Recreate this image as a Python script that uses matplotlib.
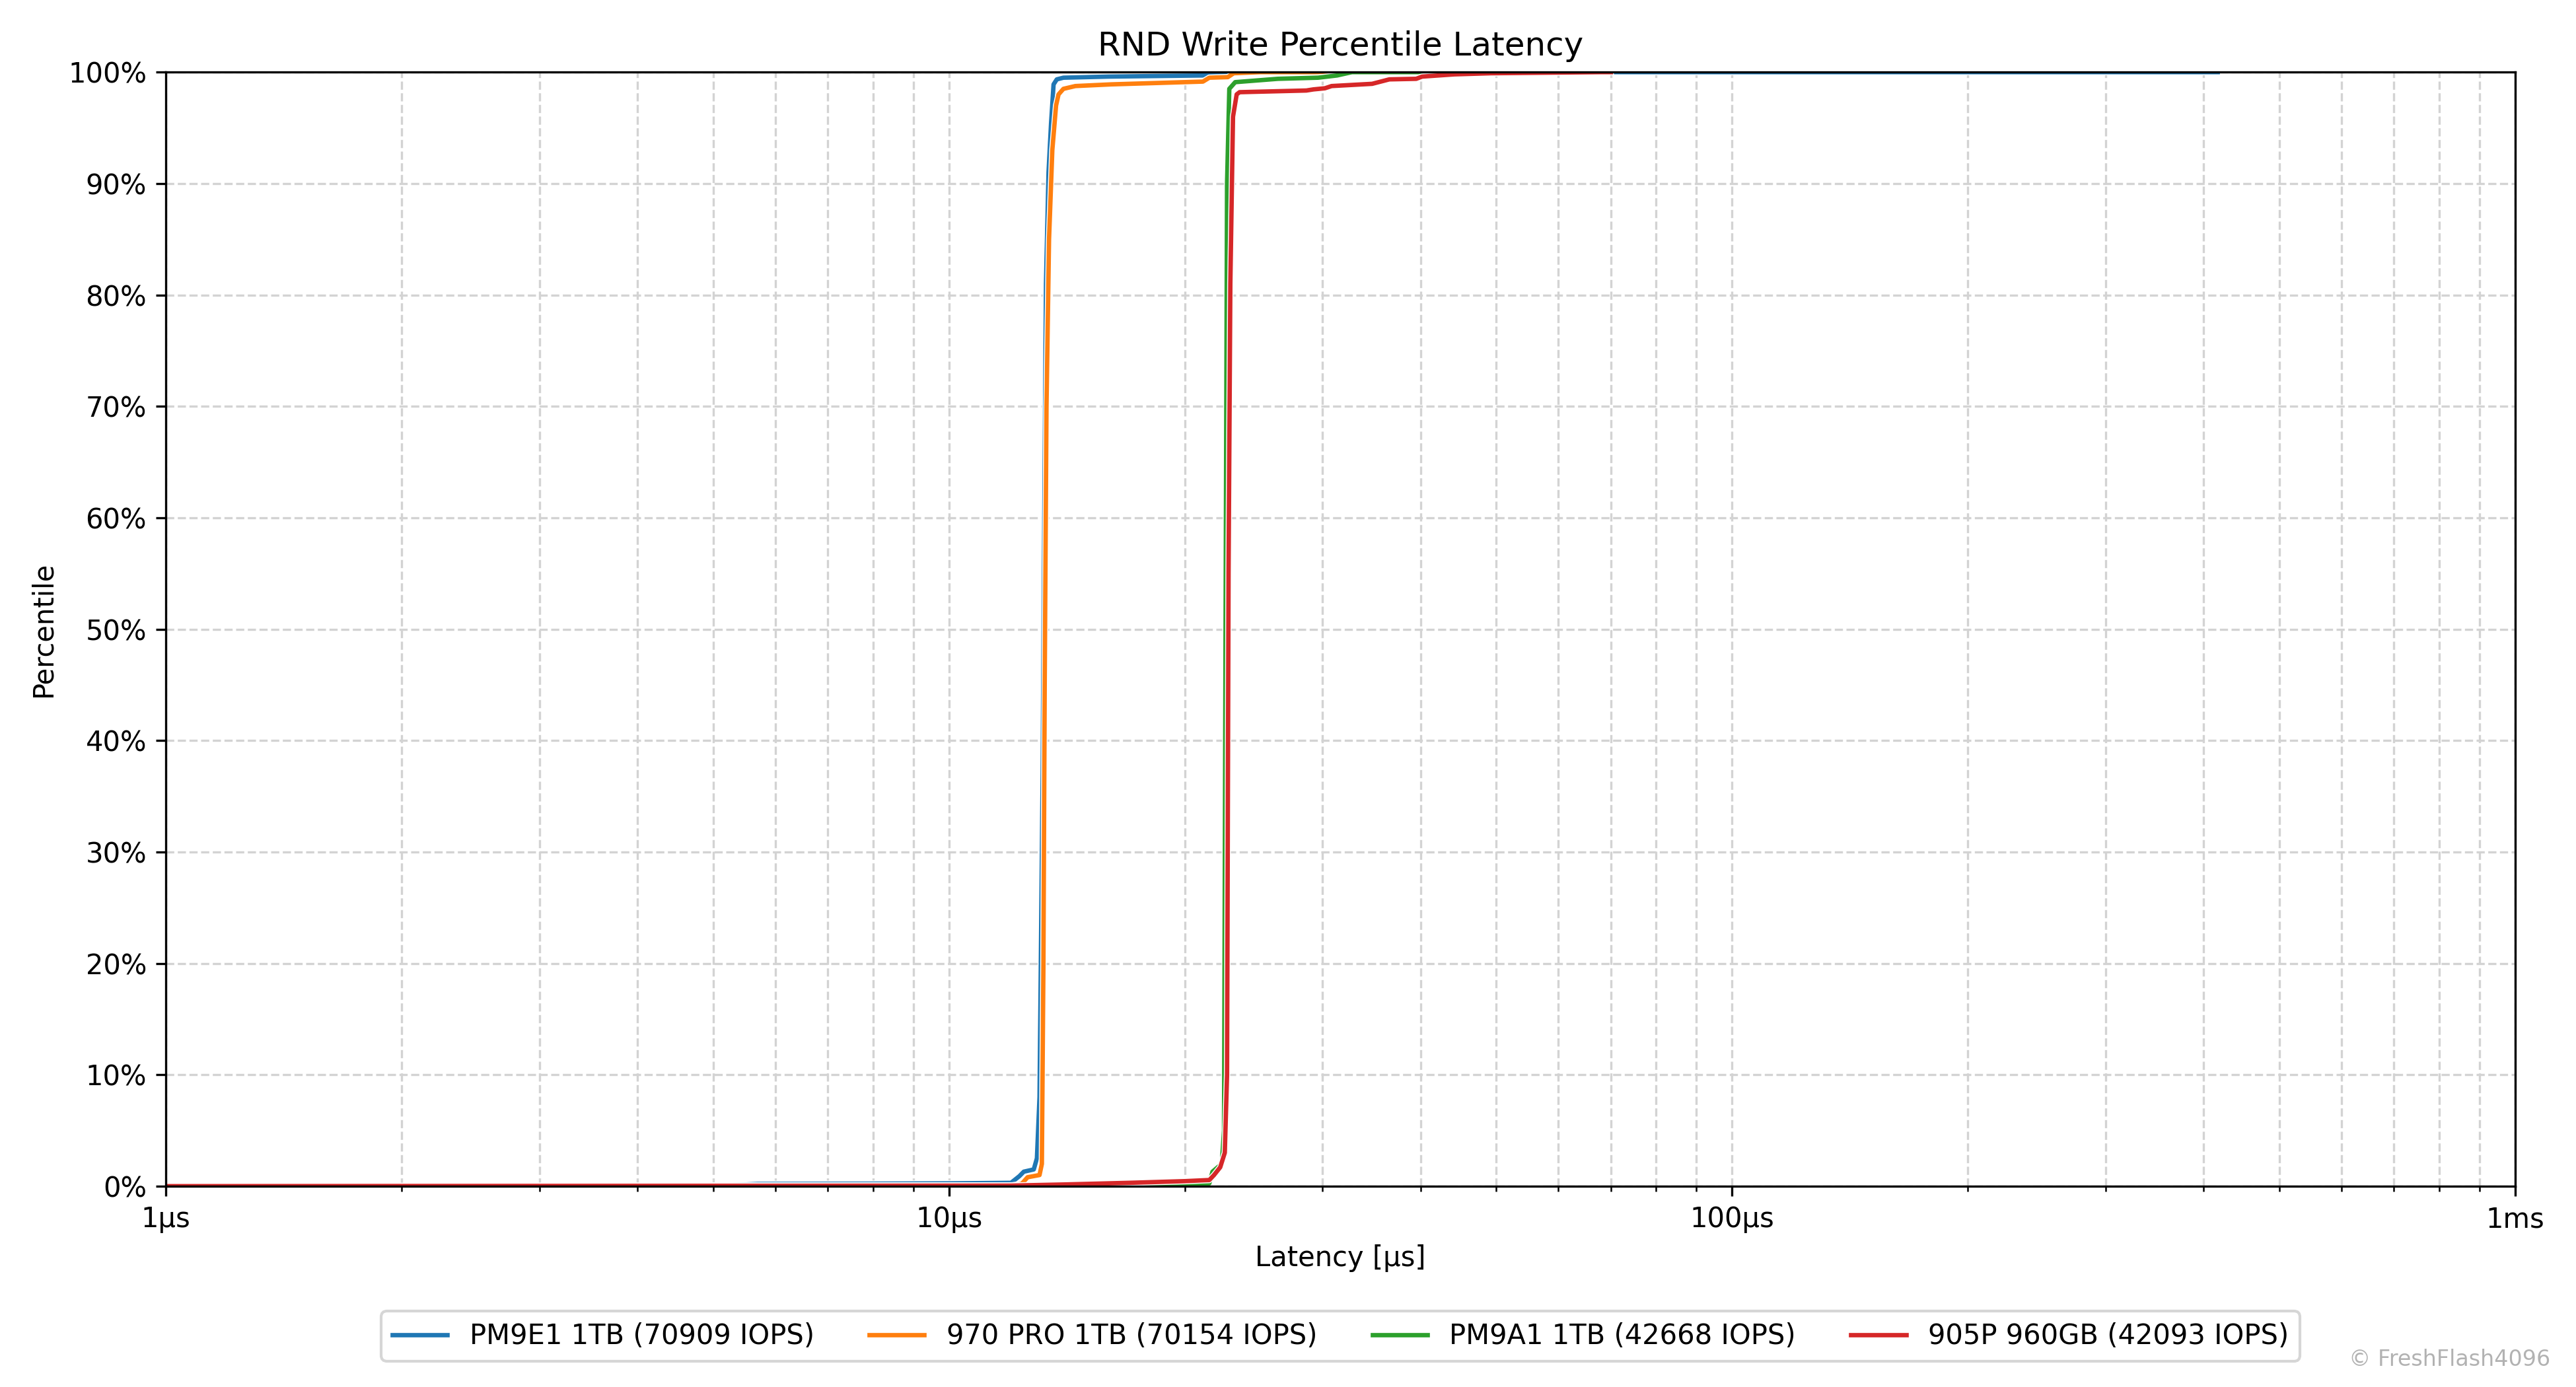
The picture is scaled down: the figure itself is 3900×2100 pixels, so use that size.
import numpy as np
import matplotlib
matplotlib.use('Agg')
import matplotlib.pyplot as plt
import matplotlib.patheffects as pe
from matplotlib.ticker import FixedLocator, FuncFormatter, PercentFormatter, NullFormatter, LogLocator

# latency in microseconds, percentile in %
pm9e1_lat = [1, 5.0, 5.3, 5.7, 8, 10, 12.0, 12.15, 12.3, 12.46, 12.83, 12.95, 13.05, 13.1, 13.17,
             13.24, 13.3, 13.4, 13.5, 13.6, 13.73, 14.0, 16, 21.1, 21.5, 23, 30, 417]
pm9e1_pct = [0, 0, 0.1, 0.2, 0.22, 0.25, 0.3, 0.6, 0.9, 1.3, 1.5, 2.5, 8, 20, 37,
             62, 81, 91, 95.4, 98.9, 99.35, 99.5, 99.6, 99.7, 99.95, 99.98, 100, 100]

pro970_lat = [1, 12.0, 12.38, 12.6, 13.05, 13.14, 13.2, 13.25, 13.32, 13.42, 13.55, 13.7, 13.8,
              14.0, 14.5, 16.1, 21.1, 21.5, 22.7, 23.1, 25, 60]
pro970_pct = [0, 0.05, 0.2, 0.8, 1.0, 2, 20, 45, 70, 85, 93, 97, 98,
              98.5, 98.75, 98.9, 99.15, 99.5, 99.55, 99.9, 100, 100]

pm9a1_lat = [1, 14, 16, 21.5, 21.7, 22.3, 22.45, 22.55, 22.65, 22.8, 23.2, 26.3, 29.6, 31.3, 32.7, 55]
pm9a1_pct = [0, 0.05, 0.15, 0.25, 1.3, 2.0, 5, 50, 90, 98.5, 99.1, 99.4, 99.5, 99.7, 100, 100]

p905_lat = [1, 12, 14, 17, 20, 21.5, 21.8, 22.2, 22.5, 22.65, 22.75, 22.87, 23.05, 23.3, 23.5,
            28.6, 29.2, 30.2, 30.8, 34.7, 36.5, 39.5, 40.2, 44.2, 49.2, 68, 70]
p905_pct = [0, 0.05, 0.15, 0.3, 0.45, 0.55, 1.0, 1.7, 3, 10, 55, 81, 96, 98, 98.2,
            98.35, 98.45, 98.55, 98.75, 98.95, 99.35, 99.4, 99.6, 99.8, 99.9, 100, 100]

series = [
    ('PM9E1 1TB (70909 IOPS)', pm9e1_lat, pm9e1_pct),
    ('970 PRO 1TB (70154 IOPS)', pro970_lat, pro970_pct),
    ('PM9A1 1TB (42668 IOPS)', pm9a1_lat, pm9a1_pct),
    ('905P 960GB (42093 IOPS)', p905_lat, p905_pct),
]

fig, ax = plt.subplots(figsize=(13, 7), dpi=300)
fig.subplots_adjust(left=0.0644, right=0.9764, top=0.948, bottom=0.1448)

for name, lat, pct in series:
    ax.plot(lat, pct, label=name, linewidth=1.6,
            path_effects=[pe.Stroke(linewidth=2.3, foreground='white'), pe.Normal()])

ax.set_xscale('log')
ax.set_xlim(1, 1000)
ax.set_ylim(0, 100)

ax.xaxis.set_major_locator(FixedLocator([1, 10, 100, 1000]))
ax.xaxis.set_major_formatter(FuncFormatter(lambda v, p: '1ms' if v >= 1000 else '%dµs' % v))
ax.xaxis.set_minor_locator(LogLocator(base=10, subs=np.arange(2, 10)))
ax.xaxis.set_minor_formatter(NullFormatter())
ax.yaxis.set_major_locator(FixedLocator(np.arange(0, 101, 10)))
ax.yaxis.set_major_formatter(PercentFormatter(100, decimals=0))

ax.grid(True, which='both', linestyle='--', color='lightgray', linewidth=0.8)
ax.set_axisbelow(True)

ax.set_title('RND Write Percentile Latency')
ax.set_xlabel('Latency [µs]')
ax.set_ylabel('Percentile')

ax.legend(loc='upper center', bbox_to_anchor=(0.5, -0.1), ncol=4)

fig.text(0.99, 0.012, '© FreshFlash4096', ha='right', va='bottom', fontsize=8,
         color='gray', alpha=0.6)

plt.savefig('out.png', dpi=300)
